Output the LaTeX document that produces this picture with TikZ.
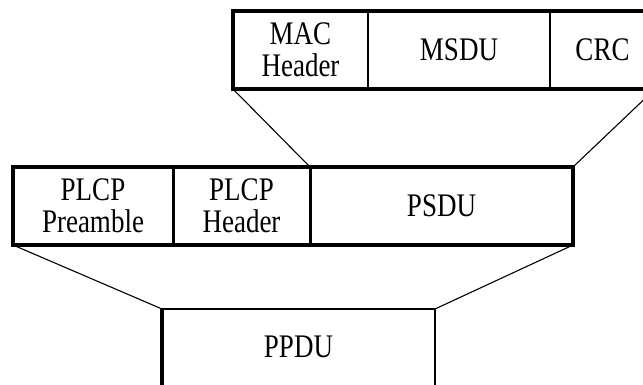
\documentclass[tikz,border=0pt]{standalone}
\usepackage{graphicx}
\usepackage{fontspec}
\setmainfont{Liberation Serif}
\newcommand{\tallt}[2][-4.4pt]{\raisebox{#1}[\height][\depth]{\scalebox{1}[1.22]{\begin{tabular}{@{}c@{}}#2\end{tabular}}}}
\begin{document}
\begin{tikzpicture}[x=1pt,y=-1pt,
  cell/.style={draw, line width=2.5pt, outer sep=0pt, inner sep=0pt, align=center,
    font=\fontsize{27}{24.6}\selectfont, minimum height=78pt},
  frame/.style={line width=4pt, line join=miter},
  conn/.style={line width=1.1pt}]
\useasboundingbox (0,0) rectangle (643,385);
% top row
\node[cell, minimum width=135pt] (mac) at (300.5,50) {\tallt{MAC\\Header}};
\node[cell, minimum width=182pt, line width=2pt] (msdu) at (459,50) {\tallt{MSDU}};
\node[cell, minimum width=105pt, line width=2pt] (crc) at (602.5,50) {\tallt{CRC}};
\draw[frame] (mac.north west) rectangle (crc.south east);
% middle row
\node[cell, minimum width=160pt] (pre) at (93,206) {\tallt{PLCP\\Preamble}};
\node[cell, minimum width=137pt, line width=3pt] (hdr) at (241.5,206) {\tallt{PLCP\\Header}};
\node[cell, minimum width=263pt, line width=3pt] (psdu) at (441.5,206) {\tallt{PSDU}};
\draw[frame] (pre.north west) rectangle (psdu.south east);
% bottom
\node[cell, minimum width=273pt, minimum height=83pt] (ppdu) at (298.5,350.5) {\tallt[-1pt]{PPDU}};
\draw[line width=4pt] (ppdu.north west) -- (ppdu.south west);
% connectors
\draw[conn] (mac.south west) -- (psdu.north west);
\draw[conn] (crc.south east) -- (psdu.north east);
\draw[conn] (pre.south west) -- (ppdu.north west);
\draw[conn] (psdu.south east) -- (ppdu.north east);
\end{tikzpicture}
\end{document}
